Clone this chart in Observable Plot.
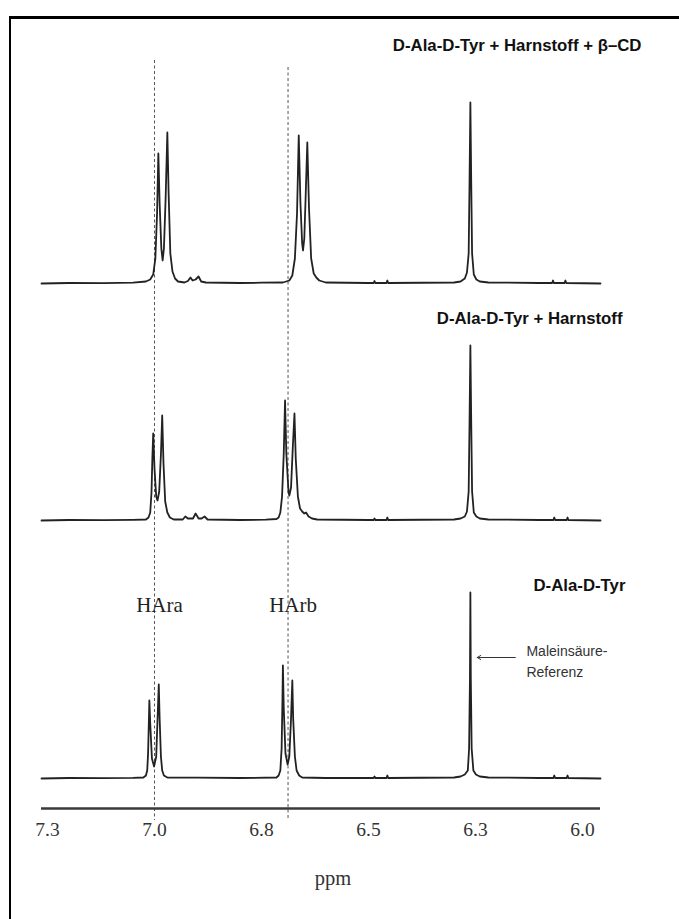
<!DOCTYPE html>
<html>
<head>
<meta charset="utf-8">
<script src="https://cdn.jsdelivr.net/npm/d3@7"></script>
<script src="https://cdn.jsdelivr.net/npm/@observablehq/plot@0.6"></script>
<style>
  html, body { margin: 0; padding: 0; background: #fff; }
  #chart { position: relative; width: 679px; height: 919px; overflow: hidden; }
  #chart svg { position: absolute; left: 0; top: 0; }
  #border { position: absolute; left: 9px; top: 16px; right: -10px; bottom: -10px;
            border-top: 3px solid #000; border-left: 2.5px solid #000; pointer-events: none; }
</style>
</head>
<body>
<div id="chart"><div id="border"></div></div>
<script>
// 1H-NMR spectra (aromatic region) of D-Ala-D-Tyr, stacked top to bottom
const spectrumNames = [
  "D-Ala-D-Tyr + Harnstoff + β–CD",
  "D-Ala-D-Tyr + Harnstoff",
  "D-Ala-D-Tyr"
];

// chemical shift (ppm) and intensity (a.u.) of each trace
const topPpm = [7.264, 7.20, 7.12, 7.05, 7.02, 7.010, 7.003, 6.998, 6.994, 6.991, 6.988, 6.984, 6.981, 6.978, 6.974, 6.970, 6.967, 6.963, 6.958, 6.952, 6.945, 6.930, 6.922, 6.916, 6.911, 6.904, 6.897, 6.891, 6.880, 6.800, 6.750, 6.700, 6.685, 6.678, 6.672, 6.667, 6.663, 6.659, 6.655, 6.653, 6.650, 6.647, 6.643, 6.639, 6.634, 6.628, 6.622, 6.615, 6.600, 6.500, 6.488, 6.486, 6.484, 6.458, 6.456, 6.454, 6.300, 6.285, 6.275, 6.270, 6.266, 6.264, 6.262, 6.260, 6.258, 6.254, 6.248, 6.240, 6.220, 6.100, 6.071, 6.069, 6.067, 6.042, 6.040, 6.038, 5.958];
const topIntensity = [0, 0.5, 0.3, 0.8, 2, 4, 9, 25, 70, 130, 80, 35, 23, 35, 85, 151, 90, 30, 12, 5, 2, 1, 2.5, 6, 3, 4, 7, 2, 1, 0.5, 0.8, 1, 3, 8, 25, 70, 148, 80, 40, 33, 45, 85, 141, 75, 25, 10, 6, 3, 1, 0.5, 0.5, 2.5, 0.5, 0.5, 3, 0.5, 1, 2, 5, 11, 30, 100, 181, 100, 30, 9, 4, 2, 1, 0.5, 0.5, 3, 0.5, 0.5, 3, 0.5, 0];

const midPpm = [7.264, 7.20, 7.12, 7.05, 7.020, 7.014, 7.010, 7.007, 7.005, 7.003, 7.000, 6.996, 6.993, 6.989, 6.985, 6.982, 6.979, 6.975, 6.970, 6.964, 6.955, 6.934, 6.928, 6.922, 6.910, 6.904, 6.897, 6.890, 6.883, 6.876, 6.800, 6.740, 6.715, 6.710, 6.706, 6.702, 6.698, 6.695, 6.692, 6.687, 6.685, 6.681, 6.677, 6.673, 6.670, 6.665, 6.660, 6.655, 6.650, 6.646, 6.640, 6.632, 6.620, 6.500, 6.488, 6.486, 6.484, 6.458, 6.456, 6.454, 6.300, 6.285, 6.275, 6.270, 6.266, 6.264, 6.262, 6.260, 6.258, 6.254, 6.248, 6.240, 6.220, 6.100, 6.068, 6.066, 6.064, 6.037, 6.035, 6.033, 5.958];
const midIntensity = [0, 0.5, 0.3, 0.6, 1, 3, 8, 28, 62, 87, 52, 24, 20, 29, 66, 105, 57, 19, 8, 3, 1, 1, 4, 2, 2, 7, 2, 2, 4, 1, 0.5, 0.8, 1.5, 3, 8, 24, 67, 120, 67, 29, 25, 33, 72, 107, 62, 24, 12, 9, 7, 8, 4, 2, 1, 0.5, 0.5, 2, 0.5, 0.5, 3, 0.5, 1, 2, 4, 9, 29, 97, 175, 97, 29, 8, 4, 2, 1, 0.5, 0.5, 3, 0.5, 0.5, 3, 0.5, 0];

const botPpm = [7.264, 7.20, 7.12, 7.05, 7.026, 7.020, 7.017, 7.015, 7.013, 7.012, 7.010, 7.006, 7.001, 6.996, 6.992, 6.990, 6.988, 6.985, 6.982, 6.978, 6.970, 6.900, 6.800, 6.715, 6.710, 6.706, 6.703, 6.701, 6.700, 6.698, 6.694, 6.689, 6.685, 6.681, 6.678, 6.676, 6.672, 6.668, 6.662, 6.655, 6.600, 6.500, 6.488, 6.486, 6.484, 6.458, 6.456, 6.454, 6.300, 6.285, 6.275, 6.268, 6.265, 6.263, 6.262, 6.261, 6.259, 6.255, 6.249, 6.240, 6.220, 6.100, 6.068, 6.066, 6.064, 6.037, 6.035, 6.033, 5.958];
const botIntensity = [0, 0.5, 0.3, 0.6, 1, 3, 8, 25, 60, 78, 55, 20, 12, 22, 70, 94, 60, 22, 8, 3, 1, 0.8, 0.5, 1, 3, 8, 30, 80, 113, 70, 25, 14, 22, 60, 98, 60, 22, 8, 3, 1, 0.5, 0.5, 0.5, 2, 0.5, 0.5, 3, 0.5, 1, 2, 4, 8, 30, 100, 186, 100, 30, 8, 4, 2, 1, 0.5, 0.5, 3, 0.5, 0.5, 3, 0.5, 0];

// axis ticks: every 0.25 ppm, printed with one decimal
const tickValues = [7.25, 7.0, 6.75, 6.5, 6.25, 6.0];
const tickLabels = ["7.3", "7.0", "6.8", "6.5", "6.3", "6.0"];

// aromatic reference positions of the free dipeptide
const refLabels = ["HAra", "HArb"];
const refShifts = [7.0, 6.688];

// internal standard
const maleicShift = 6.262;
const maleicLabel = ["Maleinsäure-", "Referenz"];

// vertical stacking of the three traces (intensity units)
const stackOffset = [495, 258, 0];

const traces = [[topPpm, topIntensity], [midPpm, midIntensity], [botPpm, botIntensity]];
const points = traces.flatMap(([ppm, inten], i) =>
  ppm.map((p, j) => ({spectrum: spectrumNames[i], ppm: p, value: inten[j] + stackOffset[i]})));

// upper ends of the dashed guides
const guideTop = [718, 711];
const refs = refShifts.map((s, i) => ({shift: s, label: refLabels[i], top: guideTop[i]}));

const titleY = [733, 460, 193];
const titleDx = [41, 22, 25];

const serif = "'Liberation Serif', 'Times New Roman', serif";
const sans = "'Liberation Sans', Arial, sans-serif";

const chart = Plot.plot({
  width: 679,
  height: 919,
  marginLeft: 41,
  marginRight: 79,
  marginTop: 0,
  marginBottom: 111,
  x: {domain: [7.264, 5.958]},
  y: {domain: [-30, 778], axis: null},
  style: {background: "transparent", overflow: "visible"},
  marks: [
    // dashed guide lines through the reference doublets
    Plot.ruleX(refs, {x: "shift", y1: "top", y2: -42, stroke: "#555", strokeWidth: 1, strokeDasharray: "3,2.5"}),
    // spectra
    Plot.line(points, {x: "ppm", y: "value", z: "spectrum", stroke: "#222", strokeWidth: 1.8,
                       strokeLinejoin: "round", curve: "linear"}),
    // ppm axis
    Plot.ruleY([-30], {stroke: "#3a3a3a", strokeWidth: 2.6}),
    Plot.axisX(tickValues, {
      tickSize: 0, tickPadding: 14, label: null,
      tickFormat: d => tickLabels[tickValues.indexOf(d)],
      fontSize: 19.5, fontFamily: serif, fill: "#333"
    }),
    Plot.text(["ppm"], {frameAnchor: "bottom", dx: 12, dy: 76, fontSize: 20.5, fontFamily: serif, fill: "#333"}),
    // spectrum titles
    ...spectrumNames.map((name, i) =>
      Plot.text([name], {frameAnchor: "right", y: [titleY[i]], dx: titleDx[i], textAnchor: "end",
                         fontSize: 16.8, fontWeight: "bold", fontFamily: sans, fill: "#111"})),
    // labels of the reference doublets
    Plot.text(refs, {x: "shift", y: 173, text: "label", dx: 5, fontSize: 21, fontFamily: serif, fill: "#222"}),
    // internal standard annotation
    Plot.arrow([maleicShift], {x1: 6.157, x2: maleicShift - 0.016, y1: 121, y2: 121,
                               stroke: "#333", strokeWidth: 1, headLength: 6, bend: false}),
    Plot.text([maleicLabel.join("\n")], {x: 6.131, y: 119, textAnchor: "start", lineHeight: 1.5,
                                         fontSize: 14, fontFamily: sans, fill: "#333"})
  ]
});
document.getElementById("chart").prepend(chart);
</script>
</body>
</html>
